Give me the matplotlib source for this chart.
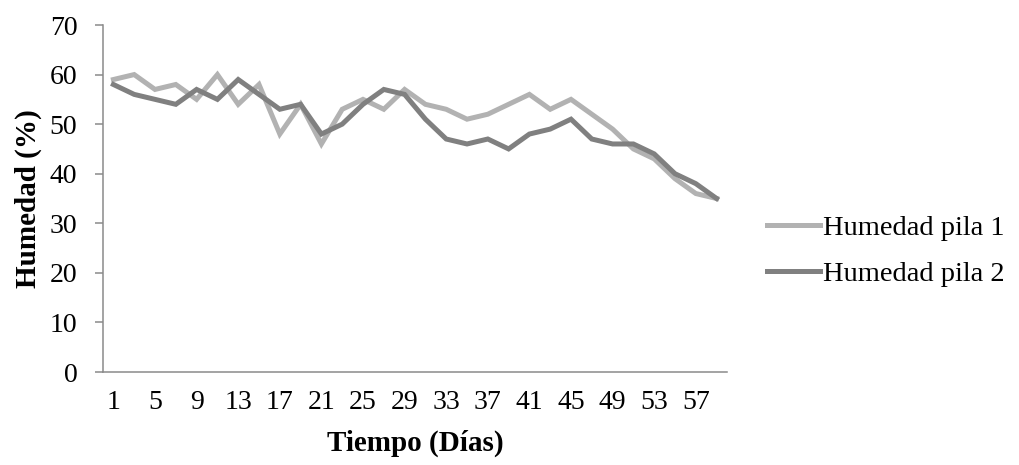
import matplotlib
matplotlib.use("Agg")
import matplotlib.pyplot as plt
import numpy as np

days = list(range(1, 60, 2))
pila1 = [59, 60, 57, 58, 55, 60, 54, 58, 48, 54, 46, 53, 55, 53, 57,
         54, 53, 51, 52, 54, 56, 53, 55, 52, 49, 45, 43, 39, 36, 35]
pila2 = [58, 56, 55, 54, 57, 55, 59, 56, 53, 54, 48, 50, 54, 57, 56,
         51, 47, 46, 47, 45, 48, 49, 51, 47, 46, 46, 44, 40, 38, 35]
labels = ["Humedad pila 1", "Humedad pila 2"]

plt.rcParams['font.family'] = ['Liberation Serif', 'DejaVu Serif']

fig = plt.figure(figsize=(10.19, 4.65), dpi=100)
W, H = 1019, 465
ax = fig.add_axes([103 / W, 1 - 372 / H, 624 / W, 347 / H])

x = np.arange(len(days))
ax.plot(x, pila1, color='#b2b2b2', lw=3.6, solid_joinstyle='miter', label=labels[0])
ax.plot(x, pila2, color='#808080', lw=3.6, solid_joinstyle='miter', label=labels[1])

ax.set_xlim(-0.5, len(days) - 0.5)
ax.set_ylim(0, 70)
ax.set_yticks(range(0, 71, 10))
ax.set_xticks(x[::2])
ax.set_xticklabels([str(d) for d in days[::2]])

for s in ['top', 'right']:
    ax.spines[s].set_visible(False)
for s in ['left', 'bottom']:
    ax.spines[s].set_color('#8a8a8a')
    ax.spines[s].set_linewidth(1.1)
ax.tick_params(axis='y', length=6, width=1.1, color='#8a8a8a', labelsize=20, pad=12.5)
ax.tick_params(axis='x', length=0, labelsize=20, pad=13)

ax.set_xlabel("Tiempo (Días)", fontsize=21, fontweight='bold')
ax.set_ylabel("Humedad (%)", fontsize=21, fontweight='bold')
ax.xaxis.set_label_coords(0.5, -0.167)
ax.yaxis.set_label_coords(-0.097, 0.5)

fig.legend(loc='center left', bbox_to_anchor=(767 / W, 1 - 251 / H), frameon=False,
           fontsize=20.5, handlelength=1.86, handletextpad=0.1, labelspacing=0.72,
           borderpad=0, borderaxespad=0)

fig.savefig("out.png", dpi=100)
